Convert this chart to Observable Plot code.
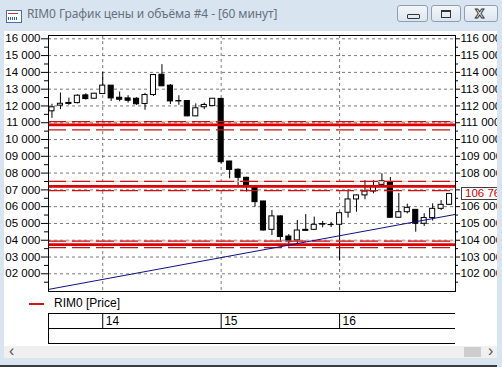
<!DOCTYPE html>
<html><head><meta charset="utf-8">
<script src="https://cdn.jsdelivr.net/npm/d3@7"></script>
<script src="https://cdn.jsdelivr.net/npm/@observablehq/plot@0.6"></script>
<style>
body{margin:0;width:502px;height:367px;overflow:hidden;background:#d9e4f1;font-family:"Liberation Sans",Arial,sans-serif;position:relative}
.abs{position:absolute}
#panel{left:4px;top:31px;width:493px;height:315px;background:#fff}
#title{left:27px;top:5px;font:12px "Noto Sans","Open Sans",sans-serif;color:#66717d;white-space:nowrap;letter-spacing:-0.1px}
.btn{top:5px;height:17px;border:1px solid #8d9fb4;border-radius:3px;background:linear-gradient(#f3f6fa,#dde6f0);box-sizing:border-box}
#rframe{left:497px;top:31px;width:5px;height:336px;background:#d9e4f1;z-index:5}
#scroll{left:4px;top:346px;width:493px;height:12px;background:#f0f0f0}
#bottom{left:0;top:365px;width:502px;height:2px;background:#3a3a3a}
#last{z-index:4;left:461px;width:50px;height:11px;border:1px solid #404040;background:#fff;color:#d00000;font-size:11.5px;line-height:11px;padding-left:3px;box-sizing:content-box}
</style></head><body>
<div class="abs" id="panel"></div>
<div class="abs" style="left:6px;top:10px;width:14px;height:11px;border:1px solid #4a6fa5;background:#fff"></div>
<div class="abs" style="left:8px;top:13px;width:10px;height:1px;background:#d03030"></div>
<div class="abs" style="left:8px;top:17px;width:10px;height:3px;background:repeating-linear-gradient(90deg,#3060a0 0 1px,#fff 1px 2px)"></div>
<div class="abs" id="title">RIM0 График цены и объёма #4 - [60 минут]</div>
<div class="abs btn" style="left:397px;width:31px"><div class="abs" style="left:9px;top:8px;width:11px;height:3px;border:1px solid #333;border-radius:1px"></div></div>
<div class="abs btn" style="left:431px;width:30px"><div class="abs" style="left:9px;top:4px;width:8px;height:5px;border:1px solid #333;border-top-width:2px"></div></div>
<div class="abs btn" style="left:464px;width:34px;z-index:6"><div class="abs" style="left:10px;top:1px;font:bold 12px 'DejaVu Sans';color:#fff;-webkit-text-stroke:1px #333">X</div></div>
<div class="abs" id="rframe"></div>
<div class="abs" id="scroll">
  <div class="abs" style="left:5px;top:-4px;font-size:16px;color:#555">&lsaquo;</div>
  <div class="abs" style="left:460px;top:1px;width:17px;height:10px;background:#cdcdcd"></div>
  <div class="abs" style="left:484px;top:-4px;font-size:16px;color:#555">&rsaquo;</div>
</div>
<div class="abs" id="bottom"></div>
<div class="abs" id="chart" style="left:0;top:30px"></div>
<div class="abs" style="left:29px;top:303px;width:15px;height:2px;background:#d01818"></div>
<div class="abs" style="left:54px;top:296px;font-size:12px;color:#000">RIM0 [Price]</div>
<div class="abs" id="table" style="left:0;top:312px"></div>
<script>
// Hourly candles: 13th (from 18:00), 14th, 15th, 16th
const open  = [111680,112020,112180,112170,112630,112430,
  112710,113210,112490,112450,112430,112120,112650,113860,113210,112290,112290,111380,111920,111990,
  112420,108690,108200,107720,107200,106310,104620,105420,104220,103990,104620,104620,104960,104900,
  104920,105640,106430,106670,106900,107300,107460,105340,105670,105810,104980,105320,105870,106110];
const high  = [112100,112770,112470,112670,112730,112750,
  114000,113210,112830,112610,112490,112750,113880,114460,113270,112610,112300,112120,112170,112450,
  112450,108700,108250,107750,107250,106310,105770,105450,104340,105180,105530,105380,105120,105060,
  105670,107000,106700,107560,107560,107960,107740,106790,106150,105830,105580,106170,106370,106780];
const low   = [111260,111780,112040,112120,112350,112420,
  112700,112270,112250,112170,112040,111740,112570,113150,112080,112040,111360,111360,111780,111980,
  108550,107660,107260,106870,105970,104550,104280,103880,103590,103790,104540,104600,104740,104760,
  102760,105320,105670,106410,106770,107280,105320,105320,105570,104480,104820,105140,105770,106080];
const close = [111920,112130,112120,112610,112410,112730,
  113210,112450,112370,112310,112100,112650,113840,113170,112270,112270,111380,111860,112060,112430,
  108650,108190,107720,107260,106270,104580,105420,104190,103890,104580,104560,104920,104930,104910,
  105610,106430,106670,106900,107220,107520,105340,105670,105930,104980,105320,105870,106110,106760];
const dayLabels = ["14","15","16"];
const dayStart  = [6,20,34];           // index of the first hourly candle of each day
const levelMain  = [110870,107210,103740];
const levelUpper = [111070,107510,103950];
const levelLower = [110570,106960,103560];
const trendX = [-0.41,47.7];
const trendY = [101070,105540];
const xDomain = [-0.41,47.7];
const yDomain = [100946,116197];

const candles = open.map((o,i)=>({i,o,h:high[i],l:low[i],c:close[i]}));
const trend = trendX.map((x,k)=>({x,y:trendY[k]}));
const lastClose = close[close.length-1];
const yMajor = d3.range(102000,116001,1000);
const yMinor = d3.range(101500,116001,500).filter(v=>v%1000!==0);
const fmtLeft = v => String(Math.round(v/1000)%100).padStart(2,"0")+" 000";
const fmtRight = v => d3.format(",")(v).replace(/,/g," ");
// the right-hand label under the last-price marker is hidden, as in the original
const fmtRightAxis = v => Math.abs(v-lastClose) < 500 ? "" : fmtRight(v);
const font = "'Liberation Sans', Arial, sans-serif";

const chart = Plot.plot({
  width:502, height:262,
  marginLeft:48, marginRight:47, marginTop:5, marginBottom:1,
  x:{domain:xDomain, axis:null},
  y:{domain:yDomain, label:null},
  style:{fontFamily:font, fontSize:"11.5px", color:"#000", background:"transparent", overflow:"visible"},
  marks:[
    Plot.ruleY(yMajor,{stroke:"#7a7a7a",strokeDasharray:"3,3"}),
    Plot.ruleX(dayStart,{stroke:"#7a7a7a",strokeDasharray:"3,3"}),
    Plot.ruleX(candles,{x:"i",y1:"l",y2:"h",stroke:"#000"}),
    Plot.rect(candles,{x1:d=>d.i-0.3,x2:d=>d.i+0.3,y1:"o",y2:"c",fill:d=>d.c>=d.o?"#fff":"#000",stroke:"#000"}),
    Plot.ruleY(levelUpper,{stroke:"#f0b8b8",strokeWidth:1}),
    Plot.ruleY(levelUpper,{stroke:"#c81414",strokeWidth:1.3,strokeDasharray:"18,6"}),
    Plot.ruleY(levelLower,{stroke:"#c81414",strokeWidth:1.3,strokeDasharray:"18,6"}),
    Plot.ruleY(levelMain,{stroke:"#dd0000",strokeWidth:2.8}),
    Plot.line(trend,{x:"x",y:"y",stroke:"#10108a",strokeWidth:1}),
    Plot.frame({stroke:"#000"}),
    Plot.axisY({anchor:"left",ticks:yMajor,tickSize:7,tickPadding:1,tickFormat:fmtLeft,label:null}),
    Plot.axisY({anchor:"left",ticks:yMinor,tickSize:4,tickFormat:()=>"",label:null}),
    Plot.axisY({anchor:"right",ticks:yMajor,tickSize:4,tickPadding:1,tickFormat:fmtRightAxis,label:null}),
    Plot.axisY({anchor:"right",ticks:yMinor,tickSize:2,tickFormat:()=>"",label:null})
  ]
});
document.getElementById("chart").appendChild(chart);

// last price marker, placed with the chart's own y scale
const yLast = chart.scale("y").apply(lastClose) + 30;
const box = document.createElement("div");
box.className = "abs"; box.id = "last";
box.style.top = (yLast-6.5)+"px";
box.textContent = fmtRight(lastClose);
document.body.appendChild(box);

// time table below the legend
const table = Plot.plot({
  width:502, height:32,
  marginLeft:48, marginRight:47, marginTop:1, marginBottom:1,
  x:{domain:xDomain, axis:null},
  y:{domain:[0,2], axis:null},
  style:{fontFamily:font, fontSize:"12px", color:"#000", background:"transparent"},
  marks:[
    Plot.ruleY([0,1,2],{stroke:"#000"}),
    Plot.ruleX([xDomain[0]],{y1:0,y2:2,stroke:"#000"}),
    Plot.ruleX(dayStart,{y1:1,y2:2,stroke:"#000"}),
    Plot.text(dayLabels,{x:(d,k)=>dayStart[k],y:1.5,text:d=>d,textAnchor:"start",dx:3,fill:"#000"})
  ]
});
document.getElementById("table").appendChild(table);
</script>
</body></html>
